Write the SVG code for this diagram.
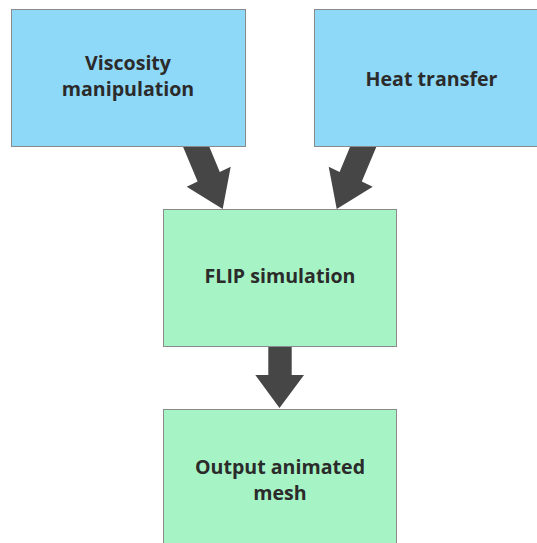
<svg xmlns="http://www.w3.org/2000/svg" width="537" height="543" viewBox="0 0 537 543">
  <style>
    .box { stroke: #8a8a8a; stroke-width: 1; }
    .input { fill: #8fd9f8; }
    .process { fill: #a6f4c5; }
    .label { font-family: "Open Sans", "Liberation Sans", sans-serif; font-weight: bold; font-size: 19.6px; fill: #2b2b2b; text-anchor: middle; }
    .arrow { fill: #464646; }
  </style>
  <rect width="537" height="543" fill="#ffffff"/>

  <g id="connectors">
    <polygon class="arrow" points="182.7,146 209,146 219.8,172 230.7,166.7 222.7,209 186.7,186.7 197.6,181.4"/>
    <polygon class="arrow" points="376.7,146 350.4,146 339.6,172 328.7,166.7 336.7,209 372.7,186.7 361.8,181.4"/>
    <polygon class="arrow" points="268.3,346 291.7,346 291.7,375 304,375 279.5,408 255.3,375 268.3,375"/>
  </g>

  <g id="viscosity">
    <rect class="box input" x="11.5" y="9.5" width="234" height="137"/>
    <text class="label" x="128" y="70">Viscosity</text>
    <text class="label" x="128" y="96">manipulation</text>
  </g>

  <g id="heat">
    <rect class="box input" x="314.5" y="9.5" width="234" height="137"/>
    <text class="label" x="431.5" y="86">Heat transfer</text>
  </g>

  <g id="flip">
    <rect class="box process" x="163.5" y="209.5" width="233" height="137"/>
    <text class="label" x="280" y="283">FLIP simulation</text>
  </g>

  <g id="output">
    <rect class="box process" x="163.5" y="409.5" width="233" height="150"/>
    <text class="label" x="280" y="474">Output animated</text>
    <text class="label" x="280" y="500">mesh</text>
  </g>
</svg>
